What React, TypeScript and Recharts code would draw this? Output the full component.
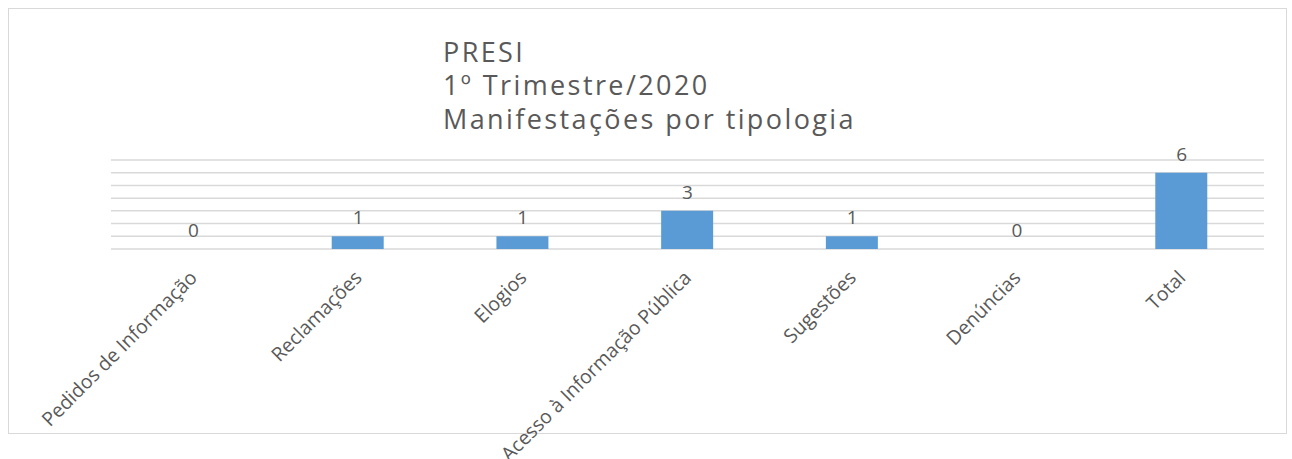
import React from 'react';
import { ComposedChart, Bar, Line, XAxis, YAxis, CartesianGrid, LabelList } from 'recharts';

const categories = [
  'Pedidos de Informação',
  'Reclamações',
  'Elogios',
  'Acesso à Informação Pública',
  'Sugestões',
  'Denúncias',
  'Total',
];
const values = [0, 1, 1, 3, 1, 0, 6];
const yTicks = [0, 1, 2, 3, 4, 5, 6, 7];
const titleLines = ['PRESI', '1º Trimestre/2020', 'Manifestações por tipologia'];

const data = categories.map((name, i) => ({ name, value: values[i] }));

const FONT = '"Open Sans", sans-serif';
const TEXT = '#595959';

function AngledTick({ x, y, payload }: any) {
  return (
    <g transform={`translate(${x + 5},${y + 22})`}>
      <text textAnchor="end" transform="rotate(-45)" fill={TEXT} fontSize={19.5} fontFamily={FONT}>
        {payload.value}
      </text>
    </g>
  );
}

export default function App() {
  return (
    <div style={{ position: 'absolute', left: 0, top: 0, width: 1292, height: 459, background: '#fff' }}>
      <div
        style={{
          position: 'absolute',
          left: 8,
          top: 8,
          width: 1279,
          height: 426,
          border: '1px solid #d9d9d9',
          boxSizing: 'border-box',
        }}
      />
      <svg width={1292} height={150} style={{ position: 'absolute', left: 0, top: 0 }}>
        {titleLines.map((line, i) => (
          <text
            key={i}
            x={443}
            y={62 + i * 33.3}
            fill={TEXT}
            fontSize={27}
            letterSpacing={2.4}
            fontFamily={FONT}
          >
            {line}
          </text>
        ))}
      </svg>
      <div style={{ position: 'absolute', left: 0, top: 0 }}>
        <ComposedChart
          width={1292}
          height={459}
          data={data}
          margin={{ top: 160, right: 28, left: 111, bottom: 0 }}
        >
          <CartesianGrid vertical={false} stroke="#d9d9d9" strokeWidth={1.5} />
          <YAxis hide domain={[0, 7]} ticks={yTicks} interval={0} />
          <XAxis
            dataKey="name"
            interval={0}
            height={210}
            axisLine={false}
            tickLine={false}
            tick={<AngledTick />}
          />
          <Bar dataKey="value" fill="#5b9bd5" barSize={52} isAnimationActive={false} />
          <Line
            dataKey="value"
            stroke="none"
            dot={false}
            activeDot={false}
            legendType="none"
            isAnimationActive={false}
          >
            <LabelList dataKey="value" position="top" offset={12} fill={TEXT} fontSize={19} fontFamily={FONT} />
          </Line>
        </ComposedChart>
      </div>
    </div>
  );
}
